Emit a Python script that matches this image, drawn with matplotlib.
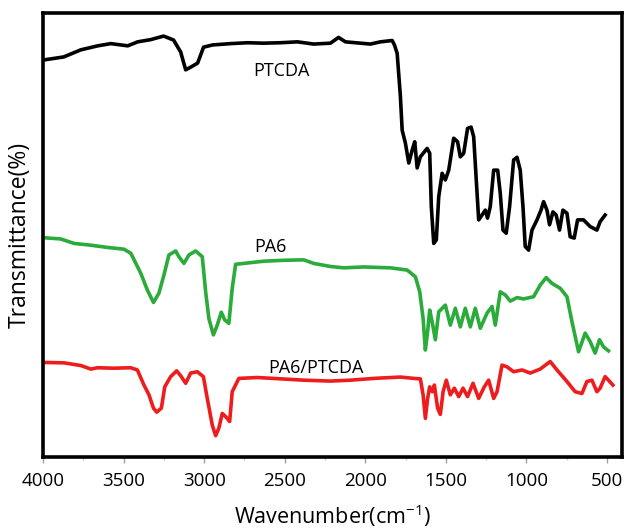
import matplotlib
matplotlib.use("Agg")
import matplotlib.pyplot as plt
from matplotlib.ticker import MultipleLocator

plt.rcParams['font.family'] = ['Open Sans', 'DejaVu Sans']
plt.rcParams['mathtext.fontset'] = 'custom'
plt.rcParams['mathtext.rm'] = 'Open Sans'

# FTIR spectra, wavenumber (cm-1) vs transmittance (offset, arbitrary %)
ptcda_wn = [4000, 3872, 3766, 3661, 3580, 3475, 3413, 3332, 3252, 3190, 3146, 3115, 3084, 3041,
            3004, 2948, 2836, 2731, 2631, 2526, 2421, 2321, 2216, 2166, 2123, 2030, 1968, 1906,
            1833, 1819, 1802, 1782, 1771, 1751, 1730, 1709, 1693, 1678, 1658, 1616, 1600, 1590,
            1575, 1559, 1544, 1523, 1503, 1482, 1451, 1427, 1410, 1389, 1365, 1343, 1327, 1311,
            1296, 1275, 1255, 1241, 1224, 1203, 1178, 1162, 1145, 1125, 1104, 1079, 1058, 1038,
            1021, 1007, 986, 965, 934, 909, 893, 872, 856, 835, 815, 794, 773, 748, 728, 703,
            682, 645, 604, 562, 542, 511]
ptcda_t = [89.4, 90.1, 91.7, 92.6, 93.1, 92.6, 93.5, 94.0, 94.8, 93.9, 91.2, 87.2, 87.8, 88.7,
           92.3, 92.8, 93.1, 93.3, 93.2, 93.3, 93.5, 93.0, 93.2, 94.5, 93.5, 93.2, 93.0, 93.5,
           93.8, 92.8, 90.9, 81.2, 73.6, 70.7, 66.2, 69.1, 71.0, 65.1, 67.6, 69.5, 68.4, 56.4,
           48.1, 48.9, 58.6, 63.9, 62.4, 64.6, 71.8, 71.0, 67.6, 68.4, 74.0, 74.3, 72.1, 62.4,
           53.4, 54.5, 55.6, 53.8, 56.4, 64.6, 64.6, 59.4, 51.1, 50.4, 56.4, 66.9, 67.5, 64.6,
           56.4, 47.4, 46.6, 51.1, 53.4, 55.6, 57.5, 55.6, 52.3, 55.2, 54.5, 51.1, 55.6, 54.9,
           49.6, 49.3, 53.4, 53.4, 51.9, 51.1, 53.0, 54.5]

pa6_wn = [4000, 3890, 3808, 3704, 3601, 3498, 3456, 3394, 3353, 3315, 3281, 3250, 3219, 3177,
          3157, 3126, 3095, 3053, 3012, 2991, 2971, 2943, 2919, 2894, 2873, 2847, 2826, 2805,
          2754, 2630, 2506, 2382, 2320, 2216, 2133, 2010, 1844, 1740, 1689, 1662, 1641, 1627,
          1613, 1600, 1585, 1565, 1544, 1503, 1472, 1441, 1410, 1379, 1348, 1317, 1286, 1244,
          1213, 1193, 1162, 1131, 1100, 1058, 1017, 955, 914, 877, 841, 790, 748, 717, 676,
          635, 604, 573, 546, 521, 490]
pa6_t = [49.4, 49.1, 48.1, 47.7, 47.2, 46.8, 45.9, 41.4, 37.6, 34.8, 36.9, 41.0, 45.5, 46.4,
         45.1, 43.6, 45.5, 46.4, 45.1, 37.2, 31.2, 27.5, 29.7, 32.6, 30.9, 30.1, 38.0, 43.4,
         43.6, 44.1, 44.3, 44.4, 43.6, 42.9, 42.6, 42.8, 42.6, 42.1, 40.6, 37.2, 31.2, 24.1,
         28.2, 33.1, 30.5, 26.4, 32.7, 34.2, 29.7, 33.5, 29.3, 33.5, 29.3, 33.5, 29.0, 32.4,
         33.9, 29.7, 37.2, 36.5, 35.1, 35.9, 35.6, 36.1, 38.7, 40.4, 39.1, 38.0, 36.1, 30.5,
         23.7, 27.9, 26.0, 23.4, 26.4, 24.8, 23.9]

blend_wn = [4000, 3870, 3766, 3704, 3663, 3560, 3456, 3415, 3374, 3343, 3315, 3295, 3266, 3245,
            3208, 3171, 3146, 3115, 3084, 3043, 3005, 2981, 2950, 2929, 2909, 2888, 2867, 2842,
            2826, 2785, 2670, 2526, 2382, 2216, 2092, 1947, 1782, 1699, 1658, 1641, 1627, 1613,
            1600, 1583, 1571, 1551, 1534, 1517, 1497, 1472, 1447, 1420, 1393, 1365, 1331, 1296,
            1261, 1234, 1203, 1182, 1151, 1120, 1079, 1027, 976, 914, 852, 810, 748, 697, 655,
            624, 593, 562, 542, 511, 490, 463]
blend_t = [21.3, 21.2, 20.6, 19.8, 20.1, 20.0, 20.1, 19.6, 16.2, 14.0, 11.0, 10.1, 11.0, 15.8,
           18.1, 19.4, 18.3, 16.6, 18.9, 19.2, 18.1, 13.2, 7.2, 4.8, 6.5, 9.8, 9.1, 8.0,
           14.7, 17.7, 17.9, 17.6, 17.3, 17.1, 17.3, 17.7, 18.0, 17.7, 17.6, 14.0, 8.7, 13.2,
           15.8, 14.7, 16.2, 11.0, 9.6, 14.7, 17.3, 14.0, 15.5, 13.6, 15.5, 13.6, 16.6, 13.2,
           15.8, 17.3, 13.2, 14.7, 20.7, 20.3, 19.2, 19.6, 18.9, 19.8, 21.5, 19.6, 17.0, 14.7,
           14.3, 17.0, 17.3, 14.7, 15.5, 18.1, 17.3, 16.2]

x_ticks = [4000, 3500, 3000, 2500, 2000, 1500, 1000, 500]

fig = plt.figure(figsize=(6.25, 5.32), dpi=100)
ax = fig.add_axes([0.069, 0.141, 0.926, 0.8346])

ax.plot(ptcda_wn, ptcda_t, color='black', lw=2.6)
ax.plot(pa6_wn, pa6_t, color='#2aab3a', lw=2.6)
ax.plot(blend_wn, blend_t, color='#ee1c1c', lw=2.6)

ax.text(2520, 86.9, 'PTCDA', fontsize=13, ha='center', va='center')
ax.text(2590, 47.2, 'PA6', fontsize=13, ha='center', va='center')
ax.text(2309, 20.0, 'PA6/PTCDA', fontsize=13, ha='center', va='center')

ax.set_xlim(4000, 407)
ax.set_ylim(0, 100)
ax.set_xticks(x_ticks)
ax.xaxis.set_minor_locator(MultipleLocator(250))
ax.set_yticks([])
ax.tick_params(axis='x', which='major', direction='out', length=4, width=1,
               color='#a0a0a0', labelsize=13.5, pad=7)
ax.tick_params(axis='x', which='minor', direction='out', length=2, width=1, color='#c8c8c8')
for s in ax.spines.values():
    s.set_linewidth(2.6)
    s.set_color('black')

ax.set_xlabel(r'Wavenumber(cm$^{\mathregular{-1}}$)', fontsize=15.5, labelpad=9)
ax.set_ylabel('Transmittance(%)', fontsize=16.5, labelpad=8)

fig.savefig('out.png', dpi=100)
